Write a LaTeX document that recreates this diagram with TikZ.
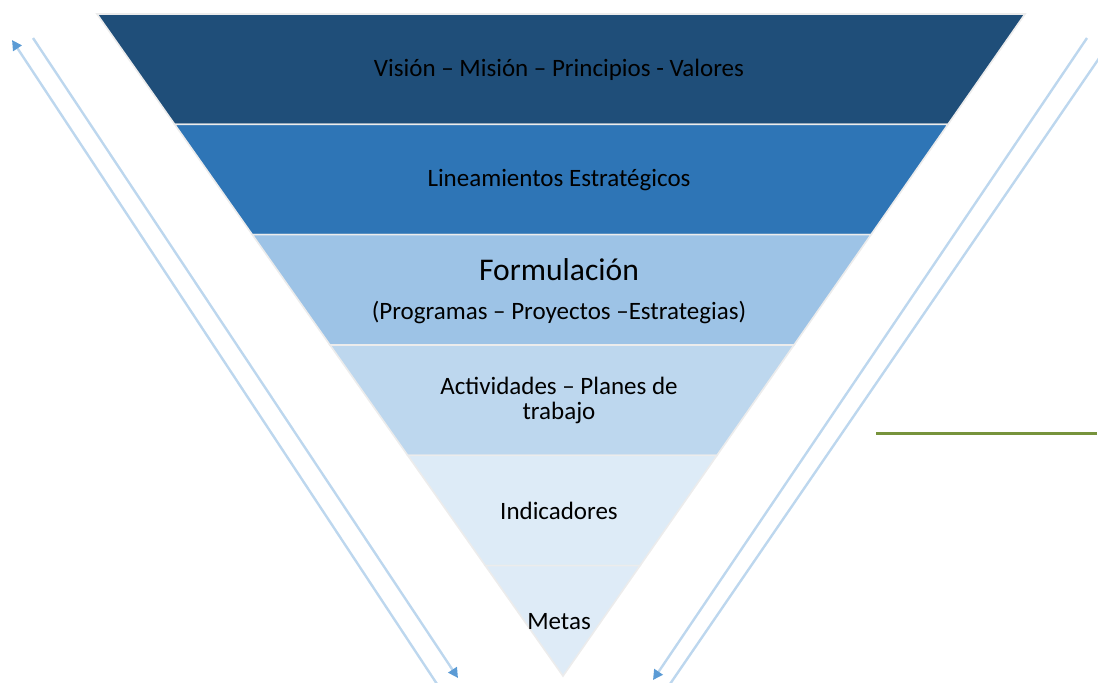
\documentclass[tikz,border=0pt]{standalone}
\usepackage{fontspec}
\setmainfont{Carlito}
\usetikzlibrary{calc,arrows.meta}
\definecolor{capa1}{HTML}{1F4E79}
\definecolor{capa2}{HTML}{2E75B6}
\definecolor{capa3}{HTML}{9DC3E6}
\definecolor{capa4}{HTML}{BDD7EE}
\definecolor{capa5}{HTML}{DDEBF7}
\definecolor{capa6}{HTML}{DEEBF7}
\definecolor{flecha}{HTML}{BDD7EE}
\definecolor{punta}{HTML}{5B9BD5}
\definecolor{verde}{HTML}{77933C}
\tikzset{
  texto/.style={font=\fontsize{12.5}{12.5}\selectfont, align=center, text=black},
  flechas/.style={flecha, line width=1.2pt, -{Triangle[color=punta,length=5pt,width=5pt]}}
}
\begin{document}
\begin{tikzpicture}[x=0.5pt,y=-0.5pt]
\useasboundingbox (0,0) rectangle (1098,682);
\coordinate (tl) at (97,14);
\coordinate (tr) at (1025,14);
\coordinate (apex) at (563,676);
% capas del embudo
\foreach \k/\j/\col in {0/1/capa1,1/2/capa2,2/3/capa3,3/4/capa4,4/5/capa5,5/6/capa6}
  \fill[\col, draw=white!85!gray, line width=0.8pt] ($(tl)!\k/6!(apex)$) -- ($(tr)!\k/6!(apex)$) -- ($(tr)!\j/6!(apex)$) -- ($(tl)!\j/6!(apex)$) -- cycle;
\node[texto] (vision) at (559,70) {Visión -- Misión -- Principios - Valores};
\node[texto] (lineam) at (559,180) {Lineamientos Estratégicos};
\node[texto, font=\fontsize{15.8}{16}\selectfont] (formul) at (559,270) {Formulación};
\node[texto] (progr) at (559,312) {(Programas -- Proyectos --Estrategias)};
\node[texto] (activ) at (559,400) {Actividades -- Planes de\\trabajo};
\node[texto] (indic) at (559,511) {Indicadores};
\node[texto] (metas) at (559,622) {Metas};
% flechas laterales
\coordinate (izqA1) at (437,684);
\coordinate (izqA2) at (12,40);
\coordinate (izqB1) at (33,38);
\coordinate (izqB2) at (458,678);
\coordinate (derC1) at (1087,38);
\coordinate (derC2) at (653,680);
\coordinate (derD1) at (1102,54);
\coordinate (derD2) at (670,684);
\draw[flechas] (izqA1) -- (izqA2);
\draw[flechas] (izqB1) -- (izqB2);
\draw[flechas] (derC1) -- (derC2);
\draw[flecha, line width=1.2pt] (derD1) -- (derD2);
% linea verde
\coordinate (verde1) at (876,433);
\coordinate (verde2) at (1097,433);
\draw[verde, line width=1.5pt] (verde1) -- (verde2);
\end{tikzpicture}
\end{document}
